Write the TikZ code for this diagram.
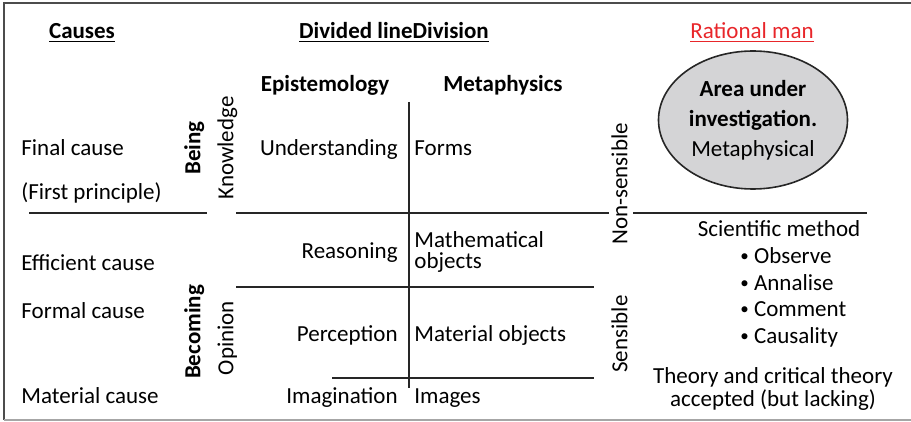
\documentclass[tikz,border=0pt]{standalone}
\usepackage{fontspec}
\setmainfont{Carlito}
\usetikzlibrary{positioning, shapes.geometric}
\definecolor{ratred}{RGB}{232,38,42}
\definecolor{areagray}{RGB}{212,212,214}
\newcommand{\smallbul}{\raisebox{.15ex}{\fontsize{8.5}{8.5}\selectfont\textbullet}\ }

\begin{document}
\begin{tikzpicture}[x=0.5pt, y=-0.5pt,
    lbl/.style={inner sep=0pt, text height=1.8ex, text depth=.1ex,
        font=\fontsize{11.5}{13}\selectfont},
    head/.style={lbl, font=\fontsize{11.5}{13}\selectfont\bfseries},
    side/.style={lbl, rotate=90, text height=1.45ex, text depth=.3ex},
    divider/.style={line width=1pt, black!85}]
    \useasboundingbox (0,0) rectangle (911,422);
    % frame
    \draw[line width=0.8pt, black!70] (911,3) -- (4,3) -- (4,420);
    \draw[line width=0.8pt, black!35] (4,420) -- (911,420);

    % titles
    \node[head] (causes) at (82,30) {\underline{Causes}};
    \node[head] (divided) at (394,30) {\underline{Divided lineDivision}};
    \node[lbl, text=ratred] (rational) at (752,30) {\underline{Rational man}};
    \node[head] (episte) at (325,83) {Epistemology};
    \node[head] (metaph) at (503,83) {Metaphysics};

    % causes
    \node[lbl, anchor=west] (final) at (21,147) {Final cause};
    \node[lbl, anchor=west] (first) at (21,191) {(First principle)};
    \node[lbl, anchor=west] (effic) at (21,262) {Efficient cause};
    \node[lbl, anchor=west] (formal) at (21,310) {Formal cause};
    \node[lbl, anchor=west] (mater) at (21,395) {Material cause};

    % side labels
    \node[side, font=\fontsize{11.5}{13}\selectfont\bfseries] (being) at (195,148) {Being};
    \node[side] (knowl) at (228,148) {Knowledge};
    \node[side, font=\fontsize{11.5}{13}\selectfont\bfseries] (becom) at (195,332) {Becoming};
    \node[side] (opin) at (228,338) {Opinion};
    \node[side] (nonsens) at (622,184) {Non-sensible};
    \node[side] (sens) at (622,334) {Sensible};

    % divided line
    \node[lbl, anchor=east] (underst) at (398,147) {Understanding};
    \node[lbl, anchor=west] (forms) at (414,147) {Forms};
    \node[lbl, anchor=east] (reason) at (398,250) {Reasoning};
    \node[lbl, anchor=west, align=left, text height=, text depth=,
        font=\fontsize{11.5}{10.5}\selectfont] (mathobj) at (414,252) {Mathematical\\objects};
    \node[lbl, anchor=east] (percep) at (398,333) {Perception};
    \node[lbl, anchor=west] (matobj) at (414,333) {Material objects};
    \node[lbl, anchor=east] (imagin) at (398,395) {Imagination};
    \node[lbl, anchor=west] (images) at (414,395) {Images};

    \draw[divider] (409,102) -- (409,388);
    \draw[divider] (29,213) -- (207,213);
    \draw[divider] (236,213) -- (609,213);
    \draw[divider] (633,213) -- (867,213);
    \draw[divider] (236,287) -- (594,287);
    \draw[divider] (332,378) -- (594,378);

    % rational man
    \node[ellipse, draw=black!85, line width=0.8pt, fill=areagray,
        minimum width=94.5pt, minimum height=69pt, inner sep=0pt,
        align=center, font=\fontsize{11.5}{15}\selectfont] (area) at (753,120)
        {\textbf{Area under}\\\textbf{investigation.}\\Metaphysical};
    \node[lbl] (scimeth) at (779,228) {Scientific method};
    \node[lbl, anchor=west] (observe) at (740,255) {\smallbul Observe};
    \node[lbl, anchor=west] (annal) at (740,282) {\smallbul Annalise};
    \node[lbl, anchor=west] (comment) at (740,308) {\smallbul Comment};
    \node[lbl, anchor=west] (causal) at (740,335) {\smallbul Causality};
    \node[lbl, align=center, text height=, text depth=,
        font=\fontsize{11.5}{9}\selectfont] (theory) at (773,389)
        {Theory and critical theory\\accepted (but lacking)};
\end{tikzpicture}
\end{document}
